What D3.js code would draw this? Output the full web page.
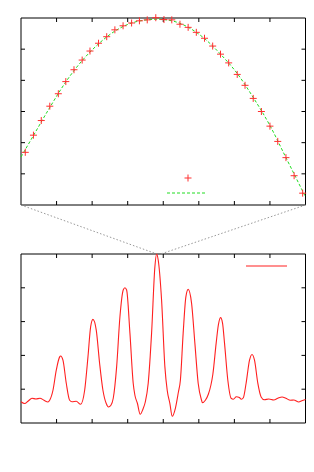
<!DOCTYPE html>
<html>
<head>
<meta charset="utf-8">
<script src="https://cdn.jsdelivr.net/npm/d3@7"></script>
<style>
  body { margin: 0; background: #fff; }
  svg { display: block; }
</style>
</head>
<body>
<script>
'use strict';

// zoomed view: measured points (red +) and fitted curve (green dashed)
const zoomX = [0.12, 0.35, 0.57, 0.81, 1.05, 1.26, 1.49, 1.72, 1.94, 2.18, 2.41, 2.64,
  2.87, 3.11, 3.33, 3.55, 3.79, 4.02, 4.24, 4.47, 4.70, 4.93, 5.16, 5.39, 5.61, 5.84,
  6.08, 6.30, 6.53, 6.76, 7.00, 7.22, 7.45, 7.68, 7.92];
const zoomY = [1.69, 2.24, 2.71, 3.17, 3.57, 3.96, 4.34, 4.65, 4.94, 5.19, 5.40, 5.62,
  5.75, 5.84, 5.91, 5.94, 6.01, 5.95, 5.94, 5.80, 5.70, 5.54, 5.35, 5.10, 4.84, 4.56,
  4.19, 3.84, 3.42, 3.00, 2.53, 2.04, 1.52, 0.94, 0.38];
const fitX = [0, 0.34, 0.81, 1.26, 1.71, 2.18, 2.64, 3.11, 3.54, 3.82, 4.24, 4.69,
  5.16, 5.61, 6.08, 6.53, 7.00, 7.45, 8.0];
const fitY = [1.54, 2.21, 3.13, 3.95, 4.62, 5.17, 5.58, 5.84, 5.94, 5.96, 5.91, 5.71,
  5.34, 4.84, 4.22, 3.45, 2.55, 1.52, 0.26];

// full view: the whole pattern (red line)
const fullX = [0.000, 0.104, 0.197, 0.309, 0.421, 0.534, 0.646, 0.759, 0.806, 0.899,
  0.992, 1.087, 1.115, 1.180, 1.273, 1.368, 1.433, 1.554, 1.677, 1.790, 1.883, 1.958,
  2.023, 2.116, 2.211, 2.304, 2.397, 2.459, 2.529, 2.594, 2.689, 2.782, 2.874, 2.922,
  2.970, 3.063, 3.155, 3.203, 3.273, 3.352, 3.428, 3.493, 3.577, 3.672, 3.765, 3.813,
  3.858, 3.953, 4.046, 4.111, 4.187, 4.251, 4.341, 4.425, 4.482, 4.560, 4.636, 4.701,
  4.796, 4.889, 4.982, 5.077, 5.100, 5.184, 5.268, 5.339, 5.395, 5.488, 5.549, 5.611,
  5.667, 5.723, 5.816, 5.909, 5.971, 6.055, 6.140, 6.196, 6.252, 6.330, 6.426, 6.496,
  6.566, 6.659, 6.752, 6.842, 6.968, 7.109, 7.221, 7.342, 7.446, 7.578, 7.671, 7.811,
  7.895, 8.000];
const fullY = [0.628, 0.575, 0.643, 0.732, 0.711, 0.732, 0.673, 0.622, 0.673, 0.969,
  1.562, 1.956, 1.983, 1.858, 1.177, 0.673, 0.628, 0.643, 0.554, 0.969, 1.956, 2.845,
  3.065, 2.747, 1.761, 0.969, 0.575, 0.474, 0.525, 0.732, 1.660, 3.142, 3.933, 4.001,
  3.933, 2.659, 1.177, 0.821, 0.584, 0.258, 0.406, 0.614, 1.177, 2.659, 4.624, 5.000,
  4.822, 3.637, 1.660, 0.969, 0.575, 0.199, 0.436, 0.910, 1.266, 2.659, 3.734, 3.954,
  3.548, 2.362, 1.177, 0.673, 0.599, 0.673, 0.851, 1.117, 1.443, 2.362, 2.896, 3.118,
  2.955, 2.362, 1.266, 0.732, 0.702, 0.777, 0.753, 0.702, 0.747, 1.177, 1.858, 2.027,
  1.858, 1.177, 0.771, 0.688, 0.711, 0.682, 0.732, 0.771, 0.732, 0.673, 0.682, 0.622,
  0.658, 0.694];

// part of the full view that the upper panel magnifies
const zoomRange = [3.82, 3.93];

const xTicks = d3.range(0, 9);
const yTicksTop = d3.range(0, 7);
const yTicksBottom = d3.range(0, 6);

const svg = d3.select('body').append('svg')
  .attr('width', 314)
  .attr('height', 472);

// upper panel scales
const xTop = d3.scaleLinear().domain([0, 8]).range([21, 305.5]);
const yTop = d3.scaleLinear().domain([0, 6]).range([205, 18]);
// lower panel scales
const xBot = d3.scaleLinear().domain([0, 8]).range([21, 305.5]);
const yBot = d3.scaleLinear().domain([0, 5]).range([423, 254]);

// gnuplot-ish frame: inward ticks on all four sides, no labels
function drawFrame(x, y, yTicks) {
  const g = svg.append('g');
  const x0 = x.range()[0], x1 = x.range()[1];
  const y0 = y.range()[0], y1 = y.range()[1];
  const tl = 4;

  g.selectAll('.xt').data(xTicks.slice(1, -1)).enter().append('line')
    .attr('x1', d => x(d)).attr('x2', d => x(d))
    .attr('y1', y1).attr('y2', y1 + tl)
    .attr('stroke', '#000');
  g.selectAll('.xb').data(xTicks.slice(1, -1)).enter().append('line')
    .attr('x1', d => x(d)).attr('x2', d => x(d))
    .attr('y1', y0).attr('y2', y0 - tl)
    .attr('stroke', '#000');
  g.selectAll('.yl').data(yTicks.slice(1, -1)).enter().append('line')
    .attr('x1', x0).attr('x2', x0 + tl)
    .attr('y1', d => y(d)).attr('y2', d => y(d))
    .attr('stroke', '#000');
  g.selectAll('.yr').data(yTicks.slice(1, -1)).enter().append('line')
    .attr('x1', x1).attr('x2', x1 - tl)
    .attr('y1', d => y(d)).attr('y2', d => y(d))
    .attr('stroke', '#000');

  g.append('path')
    .attr('d', `M${x0},${y1}H${x1}V${y0}H${x0}Z`)
    .attr('fill', 'none')
    .attr('stroke', '#000')
    .attr('stroke-width', 1);
}

drawFrame(xTop, yTop, yTicksTop);
drawFrame(xBot, yBot, yTicksBottom);

// dotted connectors from the upper panel corners to the zoomed region
svg.append('line')
  .attr('x1', xTop(0)).attr('y1', yTop(0))
  .attr('x2', xBot(zoomRange[0])).attr('y2', yBot(5))
  .attr('stroke', '#999').attr('stroke-dasharray', '1.5,2');
svg.append('line')
  .attr('x1', xTop(8)).attr('y1', yTop(0))
  .attr('x2', xBot(zoomRange[1])).attr('y2', yBot(5))
  .attr('stroke', '#999').attr('stroke-dasharray', '1.5,2');

// fitted curve
const fitLine = d3.line()
  .x((d, i) => xTop(fitX[i]))
  .y(d => yTop(d))
  .curve(d3.curveMonotoneX);
svg.append('path')
  .attr('d', fitLine(fitY))
  .attr('fill', 'none')
  .attr('stroke', '#22dd22')
  .attr('stroke-width', 1)
  .attr('stroke-dasharray', '3,2');

// measured points as plus signs
const ps = 3.5;
svg.selectAll('.pt').data(zoomY).enter().append('path')
  .attr('d', (d, i) => {
    const cx = xTop(zoomX[i]), cy = yTop(d);
    return `M${cx - ps},${cy}H${cx + ps}M${cx},${cy - ps}V${cy + ps}`;
  })
  .attr('stroke', '#ff3030')
  .attr('stroke-width', 1)
  .attr('fill', 'none');

// upper legend (no titles)
svg.append('path')
  .attr('d', `M${188 - ps},178H${188 + ps}M188,${178 - ps}V${178 + ps}`)
  .attr('stroke', '#ff3030')
  .attr('fill', 'none');
svg.append('line')
  .attr('x1', 167).attr('x2', 207).attr('y1', 193).attr('y2', 193)
  .attr('stroke', '#22dd22')
  .attr('stroke-dasharray', '3,2');

// full pattern
const fullLine = d3.line()
  .x((d, i) => xBot(fullX[i]))
  .y(d => yBot(d))
  .curve(d3.curveMonotoneX);
svg.append('path')
  .attr('d', fullLine(fullY))
  .attr('fill', 'none')
  .attr('stroke', '#ff2020')
  .attr('stroke-width', 1.1);

// lower legend
svg.append('line')
  .attr('x1', 246).attr('x2', 287).attr('y1', 266).attr('y2', 266)
  .attr('stroke', '#ff2020')
  .attr('stroke-width', 1.1);
</script>
</body>
</html>
